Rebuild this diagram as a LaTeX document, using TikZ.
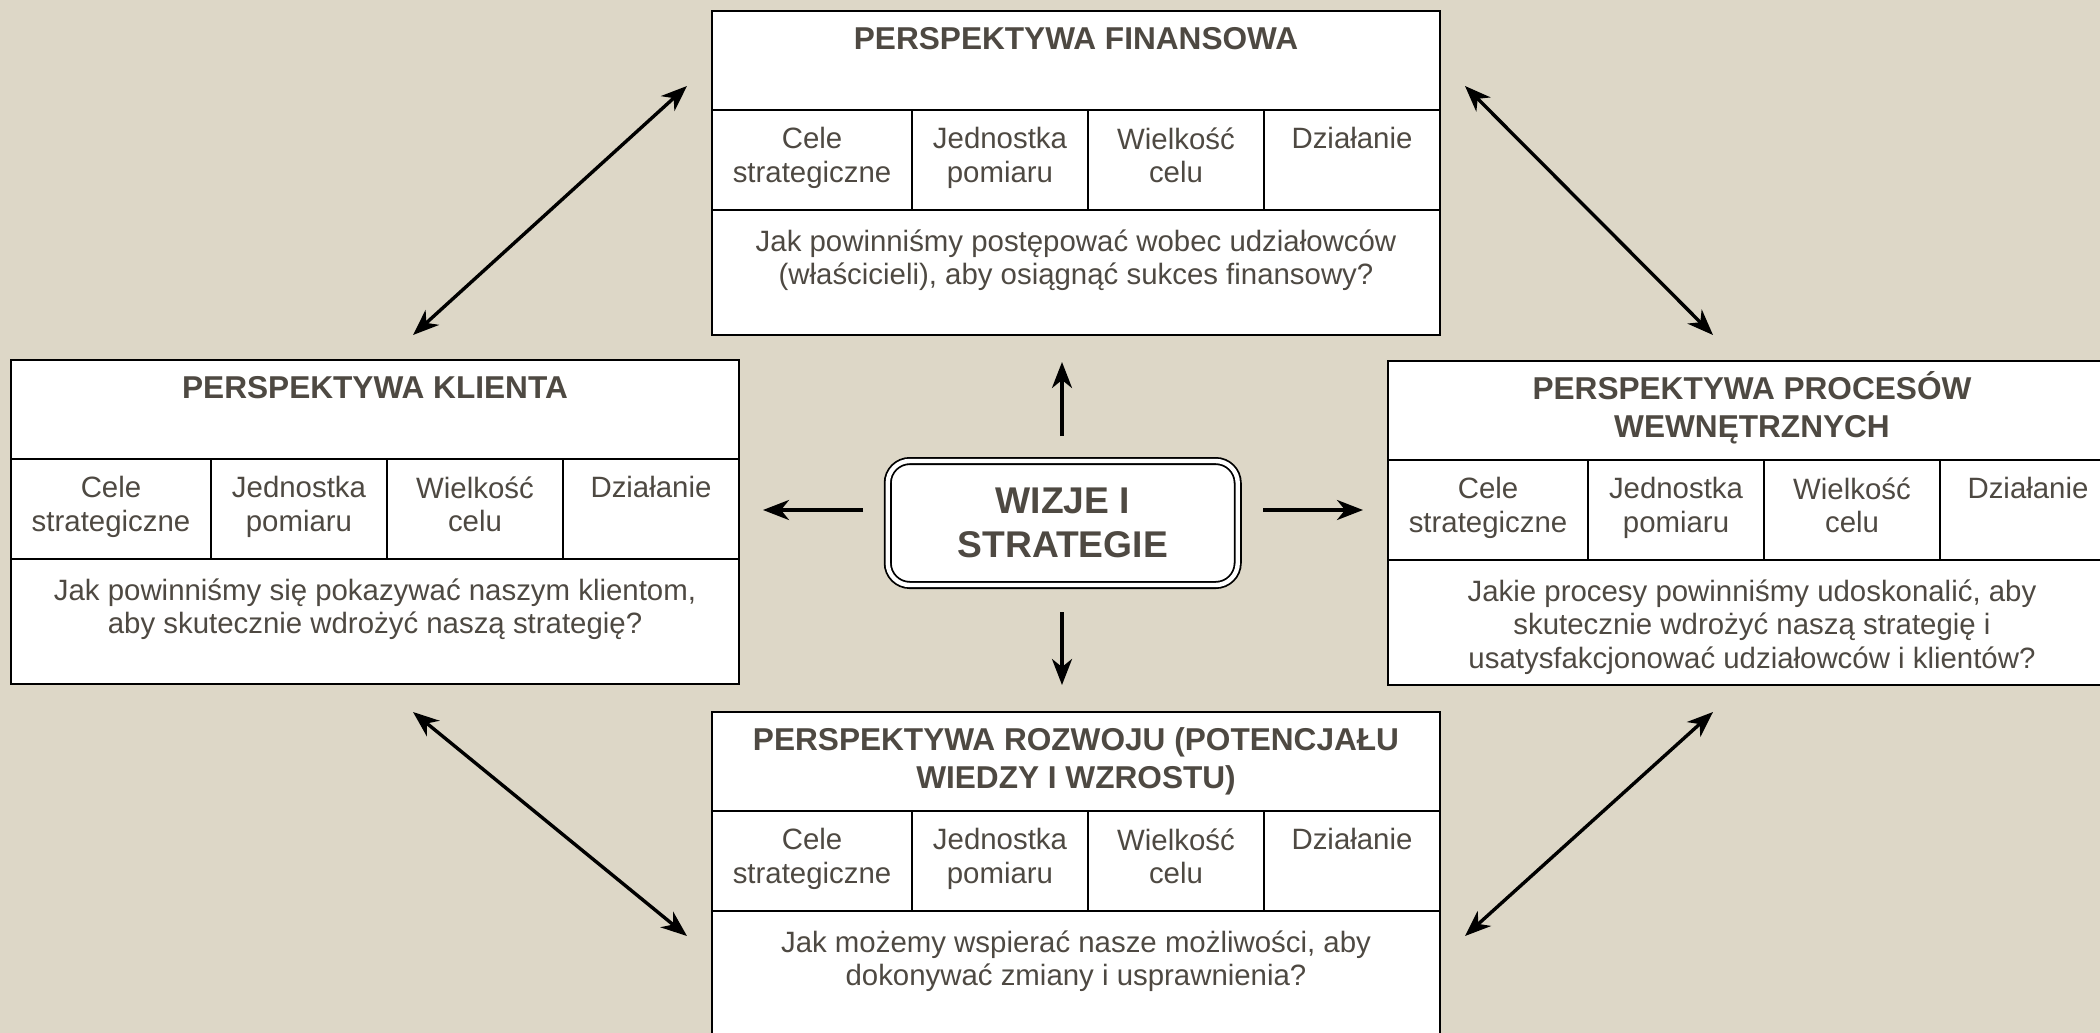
\documentclass[tikz,border=0pt]{standalone}
\usepackage{fontspec}
\setmainfont{Liberation Sans}
\usetikzlibrary{arrows.meta,positioning}

\definecolor{paper}{RGB}{221,215,199}
\definecolor{ink}{RGB}{78,73,66}

\tikzset{
  boxframe/.style={draw=black, line width=1.2pt, fill=white, anchor=north west,
    inner sep=0pt, outer sep=0pt},
  headbox/.style={boxframe, minimum width=364pt, minimum height=49.5pt},
  cellbox/.style={boxframe, minimum width=88pt, minimum height=50pt},
  askbox/.style={boxframe, minimum width=364pt, minimum height=62.5pt},
  headtext/.style={anchor=north, align=center, text=ink, inner sep=0pt,
    font=\bfseries\fontsize{15.8}{19}\selectfont},
  celltext/.style={anchor=north, align=center, text=ink, inner sep=0pt,
    font=\fontsize{14.7}{16.75}\selectfont},
  core/.style={draw=black, line width=0.9pt, double=white, double distance=2.2pt,
    fill=white, rounded corners=11pt, minimum width=175pt, minimum height=62pt,
    align=center, text=ink, font=\bfseries\fontsize{18.6}{22}\selectfont},
  tip/.tip={Stealth[length=13pt, width=10pt, inset=4pt]},
  push/.style={line width=1.7pt, -tip},
  link/.style={line width=1.7pt, tip-tip},
}

% one perspective table: name, north-west corner, title, question
\newcommand{\perspective}[4]{%
  \node[headbox] (#1-head) at (#2) {};
  \node[headtext, below=5pt of #1-head.north] (#1-title) {\vphantom{Ó}#3};
  \node[cellbox, minimum width=100pt] (#1-goal) at (#1-head.south west) {};
  \node[cellbox] (#1-unit) at (#1-goal.north east) {};
  \node[cellbox] (#1-size) at (#1-unit.north east) {};
  \node[cellbox] (#1-act) at (#1-size.north east) {};
  \node[celltext, below=8.5pt of #1-goal.north] (#1-goal-t) {Cele\\strategiczne};
  \node[celltext, below=8.5pt of #1-unit.north] (#1-unit-t) {Jednostka\\pomiaru};
  \node[celltext, below=8.5pt of #1-size.north] (#1-size-t) {Wielkość\\celu};
  \node[celltext, below=8.5pt of #1-act.north] (#1-act-t) {Działanie};
  \node[askbox] (#1-ask) at (#1-goal.south west) {};
  \node[celltext, below=9.5pt of #1-ask.north] (#1-q) {#4};
}

\begin{document}
\begin{tikzpicture}[x=0.5pt, y=-0.5pt]
  \path[use as bounding box, clip] (0,0) rectangle (2100,1033);
  \fill[paper] (0,0) rectangle (2100,1033);

  % Perspectives
  \perspective{fin}{712,11}{PERSPEKTYWA FINANSOWA}
    {Jak powinniśmy postępować wobec udziałowców\\(właścicieli), aby osiągnąć sukces finansowy?}
  \perspective{cli}{11,360}{PERSPEKTYWA KLIENTA}
    {Jak powinniśmy się pokazywać naszym klientom,\\aby skutecznie wdrożyć naszą strategię?}
  \perspective{pro}{1388,361}{PERSPEKTYWA PROCESÓW\\WEWNĘTRZNYCH}
    {Jakie procesy powinniśmy udoskonalić, aby\\skutecznie wdrożyć naszą strategię i\\usatysfakcjonować udziałowców i klientów?}
  \perspective{dev}{712,712}{PERSPEKTYWA ROZWOJU (POTENCJAŁU\\WIEDZY I WZROSTU)}
    {Jak możemy wspierać nasze możliwości, aby\\dokonywać zmiany i usprawnienia?}

  % Centre
  \node[core] (wizje) at (1062.75,523) {WIZJE I\\STRATEGIE};

  % Arrows from the centre
  \coordinate (upFrom) at (1062,436);  \coordinate (upTo) at (1062,362);
  \coordinate (dnFrom) at (1062,612);  \coordinate (dnTo) at (1062,685);
  \coordinate (ltFrom) at (863,510);   \coordinate (ltTo) at (763,510);
  \coordinate (rtFrom) at (1263,510);  \coordinate (rtTo) at (1363,510);
  \draw[push] (upFrom) -- (upTo);
  \draw[push] (dnFrom) -- (dnTo);
  \draw[push] (ltFrom) -- (ltTo);
  \draw[push] (rtFrom) -- (rtTo);

  % Links between perspectives
  \coordinate (tlA) at (413,335);  \coordinate (tlB) at (687,86);
  \coordinate (trA) at (1465,86);  \coordinate (trB) at (1713,335);
  \coordinate (blA) at (413,712);  \coordinate (blB) at (687,936);
  \coordinate (brA) at (1713,712); \coordinate (brB) at (1465,936);
  \draw[link] (tlA) -- (tlB);
  \draw[link] (trA) -- (trB);
  \draw[link] (blA) -- (blB);
  \draw[link] (brA) -- (brB);
\end{tikzpicture}
\end{document}
